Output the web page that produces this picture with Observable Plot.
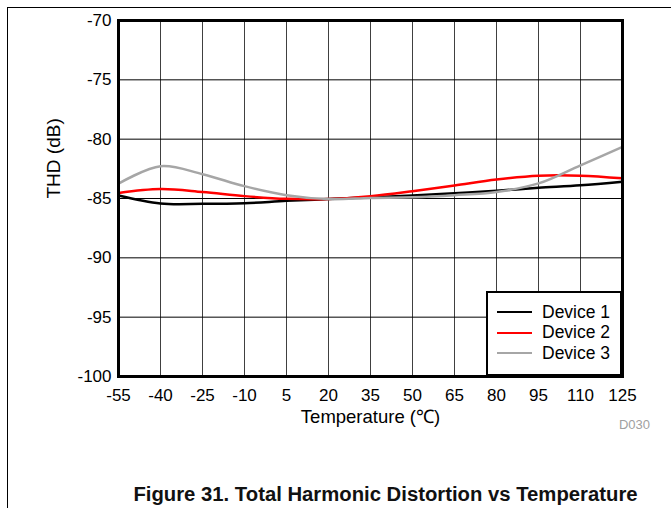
<!DOCTYPE html>
<html>
<head>
<meta charset="utf-8">
<script src="https://cdn.jsdelivr.net/npm/d3@7"></script>
<script src="https://cdn.jsdelivr.net/npm/@observablehq/plot@0.6"></script>
<style>
  body { margin: 0; background: #fff; font-family: "Liberation Sans", Arial, sans-serif; }
  #wrap { position: relative; width: 671px; height: 508px; overflow: hidden; }
  #frame { position: absolute; left: 7px; top: 7px; width: 700px; height: 600px; border-top: 1.5px solid #000; border-left: 1.5px solid #000; }
  #chart { position: absolute; left: 0; top: 0; }
  #legend { position: absolute; left: 486px; top: 291px; width: 132px; height: 81px; background: #fff; border: 2.5px solid #000; font-size: 17.5px; }
  .row { position: absolute; left: 9px; height: 20px; display: flex; align-items: center; }
  .sw { width: 35px; height: 0; border-top: 2.5px solid; margin-right: 10px; }
  #d030 { position: absolute; right: 21px; top: 417px; font-size: 13px; color: #a0a0a0; }
  #caption { position: absolute; left: 0; width: 771px; top: 483px; text-align: center; font-size: 20.3px; font-weight: bold; color: #111; }
</style>
</head>
<body>
<div id="wrap">
  <div id="frame"></div>
  <div id="chart"></div>
  <div id="legend"></div>
  <div id="d030">D030</div>
  <div id="caption">Figure 31. Total Harmonic Distortion vs Temperature</div>
</div>
<script>
const temps = [-55, -40, -25, -10, 5, 20, 35, 50, 65, 80, 95, 110, 125];
const device1 = [-84.75, -85.42, -85.45, -85.4, -85.2, -85.05, -84.9, -84.75, -84.55, -84.35, -84.1, -83.88, -83.58];
const device2 = [-84.53, -84.2, -84.45, -84.8, -85.03, -85.05, -84.8, -84.38, -83.9, -83.4, -83.08, -83.08, -83.3];
const device3 = [-83.75, -82.28, -82.95, -83.96, -84.72, -85.05, -84.95, -84.9, -84.72, -84.45, -83.73, -82.2, -80.65];
const seriesNames = ["Device 1", "Device 2", "Device 3"];
const seriesColors = ["#000000", "#ff0000", "#a6a6a6"];
const xTicks = [-55, -40, -25, -10, 5, 20, 35, 50, 65, 80, 95, 110, 125];
const yTicks = [-100, -95, -90, -85, -80, -75, -70];
const xLabel = "Temperature (℃)";
const yLabel = "THD (dB)";

const allSeries = [device1, device2, device3];
const rows = [];
allSeries.forEach((vals, si) => vals.forEach((v, i) => rows.push({t: temps[i], v, s: seriesNames[si]})));

const fmt = d => String(d);

const plot = Plot.plot({
  width: 671,
  height: 440,
  marginLeft: 118,
  marginRight: 49,
  marginTop: 20,
  marginBottom: 64,
  style: {fontFamily: "'Liberation Sans', Arial, sans-serif", fontSize: "17px", color: "#000", background: "transparent"},
  x: {domain: [-55, 125], ticks: xTicks},
  y: {domain: [-100, -70], ticks: yTicks},
  color: {domain: seriesNames, range: seriesColors},
  marks: [
    Plot.gridX(xTicks, {stroke: "#404040", strokeOpacity: 1, strokeWidth: 1}),
    Plot.gridY(yTicks, {stroke: "#000", strokeOpacity: 1, strokeWidth: 1}),
    Plot.axisX(xTicks, {tickSize: 0, tickPadding: 12, fontSize: 17, tickFormat: fmt, label: null}),
    Plot.axisY(yTicks, {tickSize: 0, tickPadding: 7, fontSize: 17, tickFormat: fmt, label: null}),
    Plot.text([xLabel], {frameAnchor: "bottom", dy: 41, fontSize: 18.5, fill: "#000", lineAnchor: "middle"}),
    Plot.text([yLabel], {frameAnchor: "left", dx: -65, rotate: -90, fontSize: 19, fill: "#000", lineAnchor: "middle"}),
    Plot.line(rows, {x: "t", y: "v", z: "s", stroke: "s", strokeWidth: 2.5, curve: "catmull-rom"}),
    Plot.frame({stroke: "#000", strokeWidth: 3})
  ]
});
document.getElementById("chart").appendChild(plot);

const legend = document.getElementById("legend");
seriesNames.forEach((n, i) => {
  const r = document.createElement("div");
  r.className = "row";
  r.style.top = (9 + i * 20.5) + "px";
  const sw = document.createElement("div");
  sw.className = "sw";
  sw.style.borderTopColor = seriesColors[i];
  const t = document.createElement("span");
  t.textContent = n;
  r.appendChild(sw); r.appendChild(t);
  legend.appendChild(r);
});
</script>
</body>
</html>
